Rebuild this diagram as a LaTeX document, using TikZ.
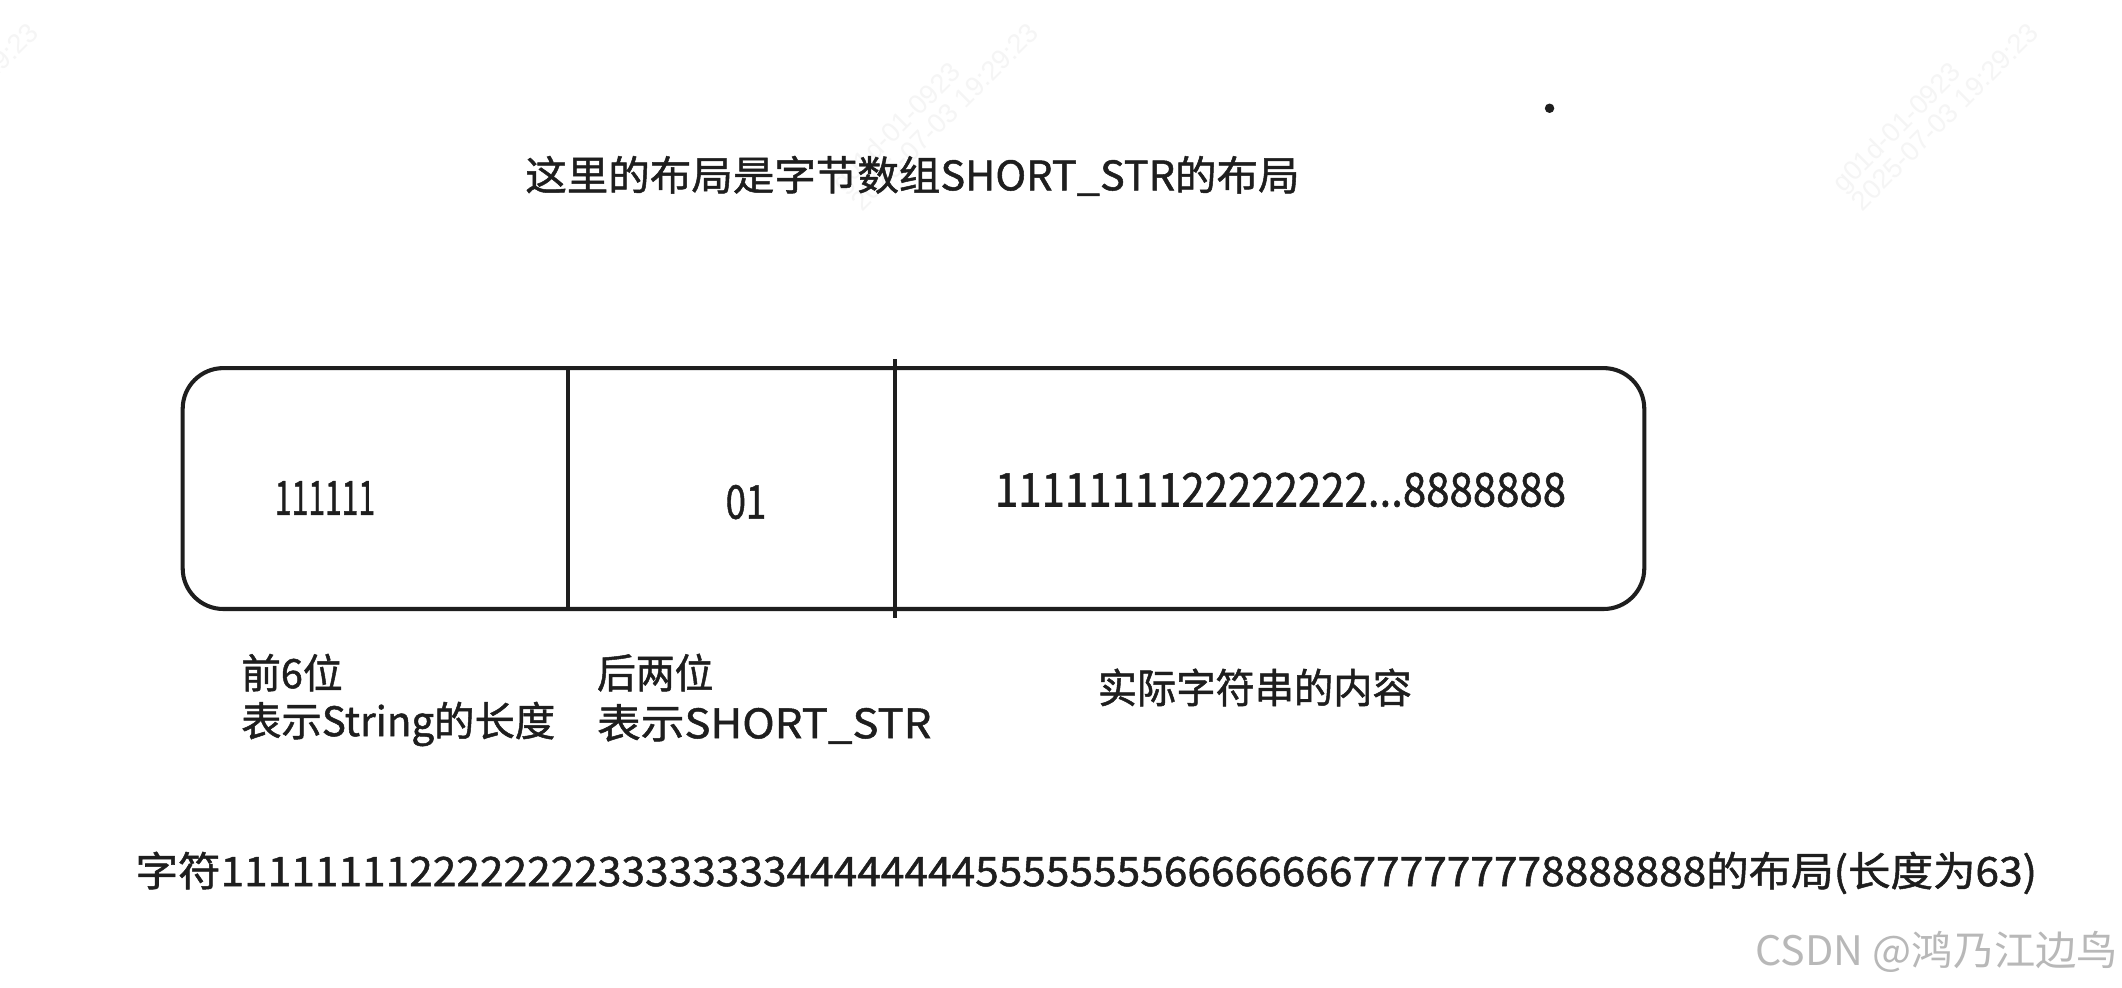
\documentclass[tikz,border=0pt]{standalone}
\usepackage{fontspec}
\setmainfont{Noto Sans CJK SC}
\newfontfamily\inkfont{Noto Sans CJK SC}[FakeBold=1.2]
\newfontfamily\wmfont{Liberation Sans}
\usepackage{graphicx}
\usetikzlibrary{calc}
\definecolor{ink}{HTML}{1E1E1E}
\newcommand{\fitw}[2]{\resizebox{#1pt}{\height}{#2}}
\newcommand{\fitwh}[3]{\resizebox{#1pt}{#2pt}{#3}}
\begin{document}
\begin{tikzpicture}[x=1pt,y=-1pt,
  txt/.style={inner sep=0pt, anchor=west, font=\inkfont\fontsize{30}{36}\selectfont, text=ink},
  wm/.style={inner sep=0pt, anchor=base west, rotate=45, font=\wmfont\fontsize{20}{24}\selectfont, text=black!4},
  cell/.style={draw=ink, line width=3pt, rounded corners=30pt, inner sep=0pt},
  divider/.style={draw=ink, line width=3pt}]
\useasboundingbox (0,0) rectangle (1568,730);
\fill[white] (0,0) rectangle (1568,730);
% faint watermarks
\begin{scope}
\clip (0,0) rectangle (1568,730);
\foreach \dx/\n in {0/a,739/b,1478/c}{
  \node[wm] (wma\n) at (1362-\dx,143) {g01d-01-0923};
  \node[wm] (wmb\n) at (1376-\dx,157) {2025-07-03 19:29:23};
}
\end{scope}
% dot
\fill[ink] (1145,80) circle[radius=3.5pt];
% title
\node[txt] (title) at (388,130) {\fitw{572}{这里的布局是字节数组SHORT\_STR的布局}};
% box
\node[cell, minimum width=1080pt, minimum height=178pt] (box) at (675,361) {};
\coordinate (d1) at (420,0);
\coordinate (d2) at (661,0);
\draw[divider] (box.north -| d1) -- (box.south -| d1);
\draw[divider] ($(box.north -| d2)+(0,-5)$) -- ($(box.south -| d2)+(0,5)$);
% cell contents
\node[txt] (len) at (203,368) {\fitwh{74}{25}{111111}};
\node[txt] (flag) at (536,371) {\fitwh{30}{25}{01}};
\node[txt] (content) at (735,362) {\fitwh{422}{25}{1111111122222222...8888888}};
% labels
\node[txt] (l1a) at (178,497) {\fitw{75}{前6位}};
\node[txt] (l1b) at (178,535) {\fitw{232}{表示String的长度}};
\node[txt] (l2a) at (441,497) {\fitw{86}{后两位}};
\node[txt] (l2b) at (441,535) {\fitw{247}{表示SHORT\_STR}};
\node[txt] (l3) at (811,508) {\fitw{232}{实际字符串的内容}};
% bottom line
\node[txt] (bottom) at (100,645) {\fitw{1405}{字符111111112222222233333333444444445555555566666666777777778888888的布局(长度为63)}};
% CSDN watermark
\node[inner sep=0pt, anchor=west, font=\fontsize{30}{36}\selectfont, text=black!28] (csdn) at (1297,703) {\fitw{268}{CSDN @鸿乃江边鸟}};
\end{tikzpicture}
\end{document}
